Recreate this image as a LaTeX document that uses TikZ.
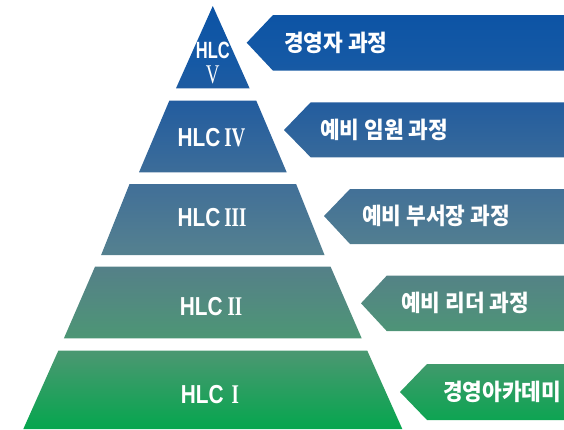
\documentclass[tikz,border=0pt]{standalone}
\usepackage{fontspec}
\setmainfont{Liberation Sans}
\newfontfamily\kofont{Noto Sans CJK KR}[FakeStretch=0.93]
\newfontfamily\hlcfont{Liberation Sans}[FakeStretch=0.8]
\newfontfamily\hlcfontT{Liberation Sans}[FakeStretch=0.7]
\newfontfamily\rnfont{Liberation Serif}[FakeStretch=0.7]
\newcommand{\kotext}{\kofont\bfseries\fontsize{23}{23}\selectfont}
\newcommand{\hlctext}{\hlcfont\bfseries\fontsize{26}{26}\selectfont}
\newcommand{\hlcsmall}{\hlcfontT\bfseries\fontsize{23.5}{23.5}\selectfont}
\newcommand{\rntext}{\rnfont\fontsize{27}{27}\selectfont}
\definecolor{g0}{HTML}{0A52A5}
\definecolor{g1}{HTML}{1559A5}
\definecolor{g2}{HTML}{225C9F}
\definecolor{g3}{HTML}{386A9A}
\definecolor{g4}{HTML}{416F98}
\definecolor{g5}{HTML}{55818F}
\definecolor{g6}{HTML}{548187}
\definecolor{g7}{HTML}{528A80}
\definecolor{g8}{HTML}{4C9774}
\definecolor{g9}{HTML}{489870}
\definecolor{g10}{HTML}{05A64E}
\pgfdeclareverticalshading{pyrshade}{100bp}{color(0bp)=(g10); color(25bp)=(g10); color(33.625bp)=(g9); color(35.373bp)=(g8); color(40.035bp)=(g7); color(43.531bp)=(g6); color(45.28bp)=(g5); color(53.555bp)=(g4); color(56.352bp)=(g3); color(63.345bp)=(g2); color(68.007bp)=(g1); color(75bp)=(g0); color(100bp)=(g0)}
\begin{document}
\begin{tikzpicture}[x=1pt,y=-1pt,
  lab/.style={text=white, inner sep=0pt},
  hlclab/.style={lab, anchor=base},
  kolab/.style={lab, anchor=base west, font=\kotext}]
\useasboundingbox (0,0) rectangle (564,429);
\begin{scope}
\clip (212.8,6) -- (249.6,88.3) -- (176,88.3) -- cycle
  (169.3,100.7) -- (256.3,100.7) -- (286.7,172.3) -- (139,172.3) -- cycle
  (129.5,184) -- (296.1,184) -- (324.5,255) -- (101.1,255) -- cycle
  (95,266.7) -- (330.6,266.7) -- (361.7,338.3) -- (63.9,338.3) -- cycle
  (58.3,350.7) -- (367.3,350.7) -- (402.3,429) -- (23.3,429) -- cycle
  (246.7,42.7) -- (273,15) -- (564,15) -- (564,70.7) -- (273,70.7) -- cycle
  (284,130) -- (310.7,102.3) -- (564,102.3) -- (564,157.3) -- (310.7,157.3) -- cycle
  (324,216) -- (350,189) -- (564,189) -- (564,244) -- (350,244) -- cycle
  (361,303.3) -- (386.7,275.7) -- (564,275.7) -- (564,331) -- (386.7,331) -- cycle
  (400,392) -- (427,364) -- (564,364) -- (564,420) -- (427,420) -- cycle;
\shade[shading=pyrshade] (0,0) rectangle (564,429);
\end{scope}
% pyramid labels
\node[hlclab] (h5a) at (212.8,58.3) {\hlcsmall HLC};
\node[hlclab] (h5b) at (212.8,83.3) {\rntext V};
\node[hlclab] (h4) at (211.5,146.7) {\hlctext HLC\hspace{4pt}\rntext IV};
\node[hlclab] (h3) at (212,226.7) {\hlctext HLC\hspace{4pt}\rntext III};
\node[hlclab] (h2) at (211,315) {\hlctext HLC\hspace{5pt}\rntext II};
\node[hlclab] (h1) at (210,403) {\hlctext HLC\hspace{8pt}\rntext I};
% arrow labels
\node[kolab] (a1) at (284,51.2) {경영자 과정};
\node[kolab] (a2) at (320,138.5) {예비 임원 과정};
\node[kolab] (a3) at (362,224.5) {예비 부서장 과정};
\node[kolab] (a4) at (401,311.8) {예비 리더 과정};
\node[kolab] (a5) at (443,400.5) {경영아카데미};
\end{tikzpicture}
\end{document}
